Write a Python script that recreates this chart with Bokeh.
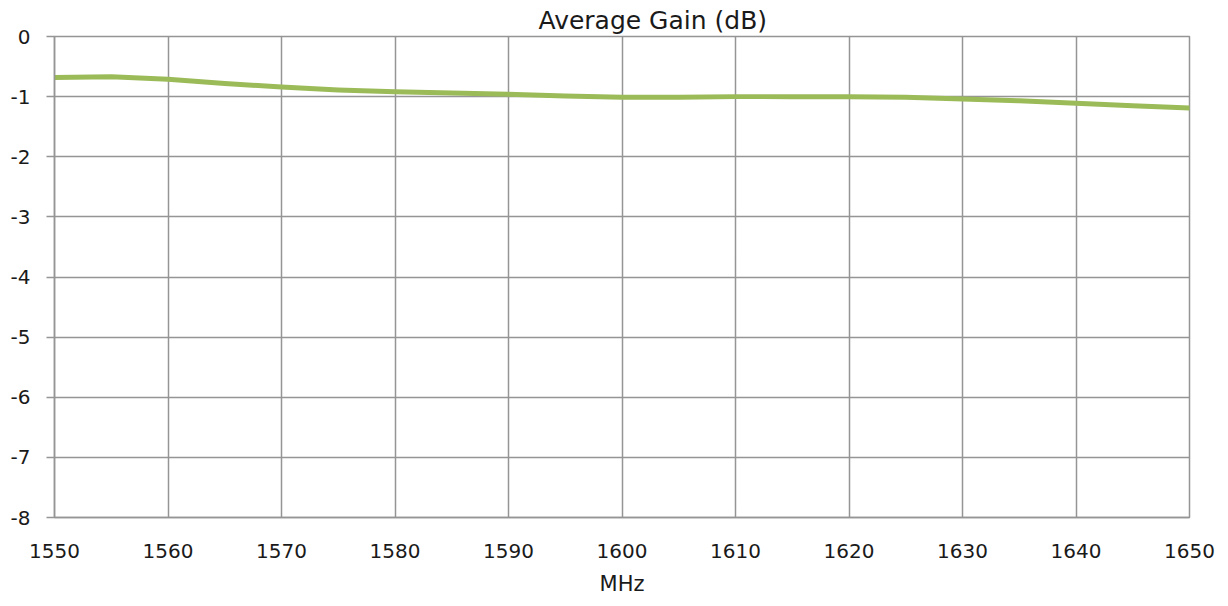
from bokeh.plotting import figure
from bokeh.models import Title, FixedTicker, Range1d, Spacer
from bokeh.layouts import row, column
from bokeh.embed import file_html
from bokeh.resources import INLINE

freq_mhz = [1550, 1555, 1560, 1565, 1570, 1575, 1580, 1585, 1590, 1595, 1600,
            1605, 1610, 1615, 1620, 1625, 1630, 1635, 1640, 1645, 1650]
avg_gain_db = [-0.68, -0.67, -0.71, -0.78, -0.84, -0.89, -0.92, -0.94, -0.96, -0.99, -1.01,
               -1.01, -1.00, -1.00, -1.00, -1.01, -1.04, -1.07, -1.11, -1.15, -1.19]
x_ticks = [1550, 1560, 1570, 1580, 1590, 1600, 1610, 1620, 1630, 1640, 1650]
y_ticks = [0, -1, -2, -3, -4, -5, -6, -7, -8]
y_tick_labels = ["0", "-1", "-2", "-3", "-4", "-5", "-6", "-7", "-8"]

FONT = "DejaVu Sans"
GRID = "#959595"
TXT = "#1a1a1a"

p = figure(frame_width=1135, frame_height=481, output_backend="svg", toolbar_location=None,
           x_range=Range1d(1550, 1650), y_range=Range1d(-8, 0),
           min_border_left=0, min_border_right=31, min_border_top=0, min_border_bottom=0)
p.title = None
p.add_layout(Title(text="Average Gain (dB)", align="left", offset=484,
                   text_font=FONT, text_font_size="25px", text_font_style="normal",
                   text_color=TXT, standoff=3), "above")

p.line(freq_mhz, avg_gain_db, line_color="#9bbb59", line_width=5,
       line_join="round", line_cap="round")

p.outline_line_color = GRID
p.outline_line_width = 1.5
p.background_fill_color = "white"
p.border_fill_color = "white"

for g in (p.xgrid[0], p.ygrid[0]):
    g.grid_line_color = GRID
    g.grid_line_width = 1.5

p.xaxis.ticker = FixedTicker(ticks=x_ticks)
p.yaxis.ticker = FixedTicker(ticks=y_ticks)
p.xgrid[0].ticker = FixedTicker(ticks=x_ticks)
p.ygrid[0].ticker = FixedTicker(ticks=y_ticks)
p.yaxis.major_label_overrides = dict(zip(y_ticks, y_tick_labels))

p.xaxis.axis_label = "MHz"
p.xaxis.axis_label_text_font = FONT
p.xaxis.axis_label_text_font_size = "21px"
p.xaxis.axis_label_text_font_style = "normal"
p.xaxis.axis_label_text_color = TXT
p.xaxis.axis_label_standoff = 11

for ax in (p.xaxis[0], p.yaxis[0]):
    ax.major_label_text_font = FONT
    ax.major_label_text_font_size = "20px"
    ax.major_label_text_color = TXT
    ax.axis_line_color = GRID
    ax.axis_line_width = 1.5
    ax.major_tick_line_color = GRID
    ax.major_tick_line_width = 1.5
    ax.minor_tick_line_color = None
    ax.major_tick_in = 0

p.xaxis.major_tick_out = 0
p.xaxis.major_label_standoff = 26
p.yaxis.major_tick_out = 8
p.yaxis.major_label_standoff = 16

layout = column(Spacer(height=2), row(Spacer(width=7), p))
open("out.html", "w").write(file_html(layout, INLINE))
